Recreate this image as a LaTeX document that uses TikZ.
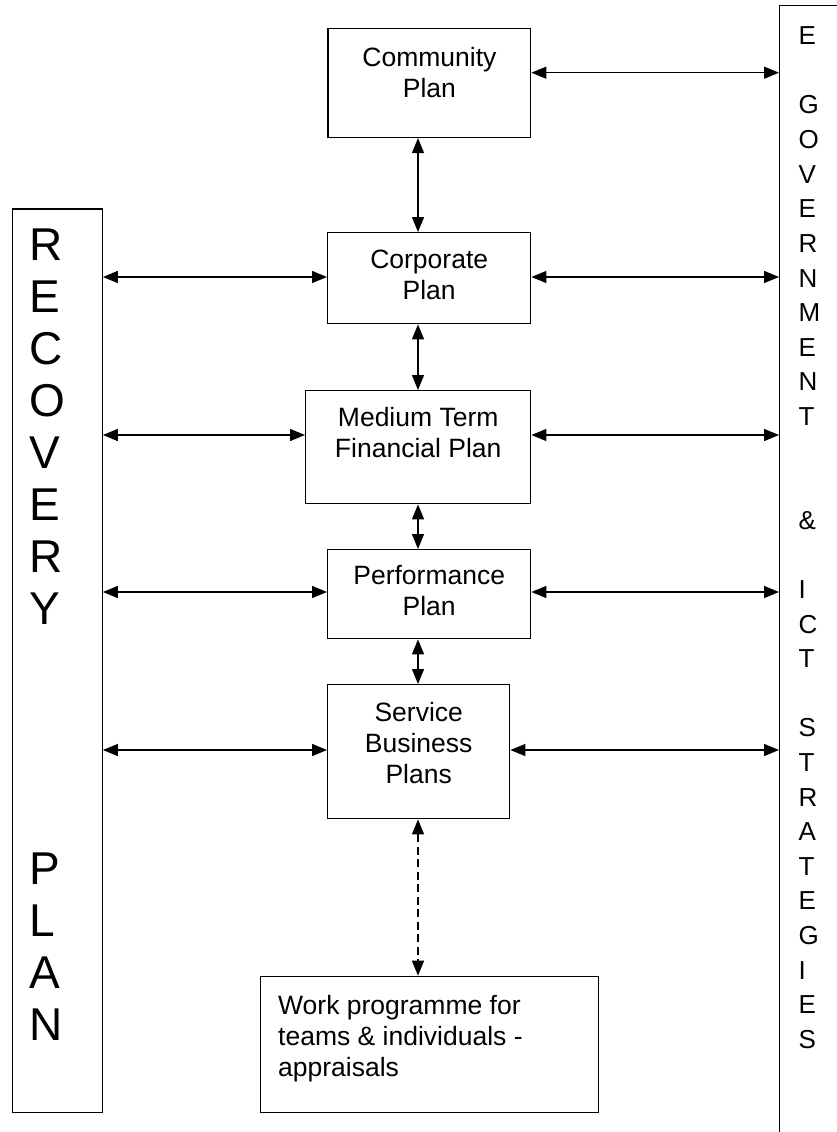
\documentclass[tikz,border=0pt]{standalone}
\usepackage{fontspec}
\setmainfont{Liberation Sans}
\usetikzlibrary{arrows.meta}
\begin{document}
\begin{tikzpicture}[x=1pt,y=-1pt,
  box/.style={draw, line width=1.4pt, inner sep=0pt, anchor=north west},
  plantext/.style={align=center, inner sep=0pt, anchor=north,
    font=\fontsize{26.5}{31}\selectfont},
  column/.style={align=left, inner sep=0pt, anchor=north west},
  link/.style={line width=1.4pt,
    {Triangle[length=15pt,width=12pt]}-{Triangle[length=15pt,width=12pt]}},
  ]
\clip (0,0) rectangle (837,1132);

% side panels
\node[box, minimum width=90pt, minimum height=903.4pt] (rec) at (11.5,208.3) {};
\node[box, minimum width=90pt, minimum height=1140pt] (ict) at (779,5) {};

% planning chain
\node[box, minimum width=202.6pt, minimum height=109pt] (comm) at (327.4,27.7) {};
\node[box, minimum width=203pt, minimum height=91pt] (corp) at (327,232) {};
\node[box, minimum width=225pt, minimum height=113pt] (mtfp) at (305,390) {};
\node[box, minimum width=203pt, minimum height=89pt] (perf) at (327,549) {};
\node[box, minimum width=182pt, minimum height=134pt] (serv) at (327,684) {};
\node[box, minimum width=338pt, minimum height=136pt] (work) at (260,975.7) {};

% box texts
\node[plantext] (commtext) at ([yshift=-19pt]comm.north) {Community\\Plan};
\node[plantext] (corptext) at ([yshift=-18pt]corp.north) {Corporate\\Plan};
\node[plantext] (mtfptext) at ([yshift=-17pt]mtfp.north) {Medium Term\\Financial Plan};
\node[plantext] (perftext) at ([yshift=-16pt]perf.north) {Performance\\Plan};
\node[plantext] (servtext) at ([yshift=-18pt]serv.north) {Service\\Business\\Plans};
\node[plantext, align=left, anchor=north west] (worktext)
  at ([xshift=18pt,yshift=-19pt]work.north west)
  {Work programme for\\teams \& individuals -\\appraisals};

% vertical lettering of the side panels
\node[column, font=\fontsize{46}{52}\selectfont] (rectext) at (29.5,229)
  {R\\E\\C\\O\\V\\E\\R\\Y\\\mbox{}\\\mbox{}\\\mbox{}\\\mbox{}\\P\\L\\A\\N};
\node[column, font=\fontsize{26}{34.6}\selectfont] (icttext) at (798.5,26.7)
  {E\\\mbox{}\\G\\O\\V\\E\\R\\N\\M\\E\\N\\T\\\mbox{}\\\mbox{}\\\&\\\mbox{}\\I\\C\\T\\\mbox{}\\S\\T\\R\\A\\T\\E\\G\\I\\E\\S};

% connector rows and spine
\coordinate (row1) at (0,72.7);
\coordinate (row2) at (0,277);
\coordinate (row3) at (0,435);
\coordinate (row4) at (0,592);
\coordinate (row5) at (0,750);
\coordinate (spine) at (418,0);

\draw[link] (comm.east |- row1) -- (ict.west |- row1);
\draw[link] (rec.east |- row2) -- (corp.west |- row2);
\draw[link] (corp.east |- row2) -- (ict.west |- row2);
\draw[link] (rec.east |- row3) -- (mtfp.west |- row3);
\draw[link] (mtfp.east |- row3) -- (ict.west |- row3);
\draw[link] (rec.east |- row4) -- (perf.west |- row4);
\draw[link] (perf.east |- row4) -- (ict.west |- row4);
\draw[link] (rec.east |- row5) -- (serv.west |- row5);
\draw[link] (serv.east |- row5) -- (ict.west |- row5);

\draw[link] (spine |- comm.south) -- (spine |- corp.north);
\draw[link] (spine |- corp.south) -- (spine |- mtfp.north);
\draw[link] (spine |- mtfp.south) -- (spine |- perf.north);
\draw[link] (spine |- perf.south) -- (spine |- serv.north);
\draw[link, dash pattern=on 8pt off 4.5pt] (spine |- serv.south) -- (spine |- work.north);
\end{tikzpicture}
\end{document}
